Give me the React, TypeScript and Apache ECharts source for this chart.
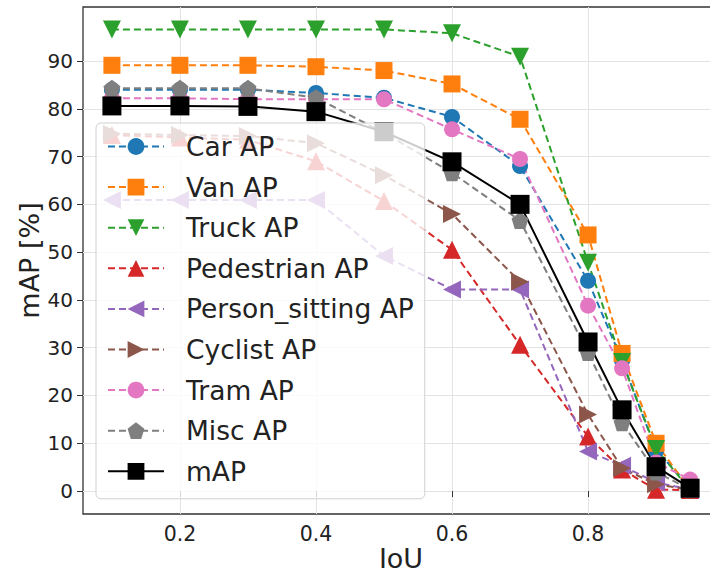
import React, { useEffect, useRef } from "react";
import * as echarts from "echarts";

const iouValues = [0.1, 0.2, 0.3, 0.4, 0.5, 0.6, 0.7, 0.8, 0.85, 0.9, 0.95];
const xTicks = [0.2, 0.4, 0.6, 0.8];
const yTicks = [0, 10, 20, 30, 40, 50, 60, 70, 80, 90];

const carAP = [84.0, 84.0, 84.0, 83.3, 82.3, 78.3, 68.0, 44.0, 27.3, 8.5, 1.0];
const vanAP = [89.1, 89.1, 89.1, 88.8, 88.0, 85.2, 77.8, 53.6, 28.8, 10.0, 0.3];
const truckAP = [96.6, 96.6, 96.6, 96.6, 96.6, 95.8, 90.9, 47.8, 27.0, 8.8, 0.3];
const pedestrianAP = [74.5, 74.0, 73.5, 69.0, 60.7, 50.5, 30.6, 11.4, 4.5, 0.3, 0.2];
const personSittingAP = [60.9, 60.9, 60.9, 60.9, 49.2, 42.2, 42.2, 8.3, 5.3, 1.8, 0.3];
const cyclistAP = [74.8, 74.5, 74.3, 72.8, 66.1, 58.0, 43.8, 16.0, 4.8, 1.4, 0.3];
const tramAP = [82.2, 82.2, 82.0, 82.0, 82.0, 75.7, 69.5, 38.8, 25.7, 6.0, 2.4];
const miscAP = [84.3, 84.3, 84.3, 82.3, 75.0, 66.6, 56.6, 29.0, 14.3, 4.0, 0.3];
const meanAP = [80.6, 80.6, 80.5, 79.4, 75.2, 68.9, 60.0, 31.2, 17.0, 5.1, 0.6];

const FONT = "DejaVu Sans";

type Def = {
  name: string;
  data: number[];
  color: string;
  symbol: string;
  size: number;
  dashed: boolean;
};

const TRI_DOWN = "path://M0,0 L10,0 L5,10 Z";
const TRI_UP = "path://M5,0 L10,10 L0,10 Z";
const TRI_LEFT = "path://M0,5 L10,0 L10,10 Z";
const TRI_RIGHT = "path://M0,0 L10,5 L0,10 Z";
const PENTAGON = "path://M5,0 L10,3.8 L8.1,10 L1.9,10 L0,3.8 Z";

const defs: Def[] = [
  { name: "Car AP", data: carAP, color: "#1f77b4", symbol: "circle", size: 16, dashed: true },
  { name: "Van AP", data: vanAP, color: "#ff7f0e", symbol: "rect", size: 17, dashed: true },
  { name: "Truck AP", data: truckAP, color: "#2ca02c", symbol: TRI_DOWN, size: 18, dashed: true },
  { name: "Pedestrian AP", data: pedestrianAP, color: "#d62728", symbol: TRI_UP, size: 18, dashed: true },
  { name: "Person_sitting AP", data: personSittingAP, color: "#9467bd", symbol: TRI_LEFT, size: 18, dashed: true },
  { name: "Cyclist AP", data: cyclistAP, color: "#8c564b", symbol: TRI_RIGHT, size: 18, dashed: true },
  { name: "Tram AP", data: tramAP, color: "#e377c2", symbol: "circle", size: 16, dashed: true },
  { name: "Misc AP", data: miscAP, color: "#7f7f7f", symbol: PENTAGON, size: 17, dashed: true },
  { name: "mAP", data: meanAP, color: "#000000", symbol: "rect", size: 19, dashed: false },
];

export default function App() {
  const ref = useRef<HTMLDivElement>(null);
  useEffect(() => {
    document.body.style.margin = "0";
    if (!ref.current) return;
    const chart = echarts.init(ref.current, undefined, { renderer: "svg", width: 710, height: 574 });
    const series = defs.map((d) => ({
      name: d.name,
      type: "line",
      data: iouValues.map((x, i) => [x, d.data[i]]),
      symbol: d.symbol,
      symbolSize: d.size,
      showSymbol: true,
      clip: false,
      itemStyle: { color: d.color, borderWidth: 0 },
      lineStyle: { color: d.color, width: 2, type: d.dashed ? [7, 4] : "solid" },
      emphasis: { disabled: true },
    }));
    chart.setOption({
      animation: false,
      backgroundColor: "#ffffff",
      grid: {
        left: 83,
        top: 7,
        right: -9,
        bottom: 60,
        outerBoundsMode: "none",
        containLabel: false,
        show: true,
        borderColor: "#333333",
        borderWidth: 1.3,
        backgroundColor: "transparent",
      },
      xAxis: {
        type: "value",
        min: 0.0575,
        max: 0.9925,
        name: "IoU",
        nameLocation: "middle",
        nameGap: 30.5,
        nameMoveOverlap: false,
        nameTextStyle: { fontFamily: FONT, fontSize: 27, lineHeight: 27, color: "#222" },
        axisLine: { show: false },
        axisTick: { show: true, length: 6, lineStyle: { color: "#333" }, customValues: xTicks },
        axisLabel: {
          fontFamily: FONT,
          fontSize: 20.5,
          color: "#222",
          margin: 9,
          customValues: xTicks,
          formatter: (v: number) => v.toFixed(1),
        },
        splitLine: { show: true, lineStyle: { color: "#e3e3e3", width: 1 } },
      },
      yAxis: {
        type: "value",
        min: -4.8,
        max: 101.3,
        name: "mAP [%]",
        nameLocation: "middle",
        nameGap: 40,
        nameMoveOverlap: false,
        nameTextStyle: { fontFamily: FONT, fontSize: 27, color: "#222" },
        axisLine: { show: false },
        axisTick: { show: true, length: 6, lineStyle: { color: "#333" }, customValues: yTicks },
        axisLabel: {
          fontFamily: FONT,
          fontSize: 20,
          color: "#222",
          margin: 10,
          customValues: yTicks,
        },
        splitLine: { show: true, lineStyle: { color: "#e3e3e3", width: 1 } },
      },
      legend: {
        orient: "vertical",
        left: 96,
        top: 123,
        padding: [10, 11, 14, 11],
        itemGap: 13.6,
        itemWidth: 56,
        itemHeight: 21,
        selectedMode: false,
        backgroundColor: "rgba(255,255,255,0.8)",
        borderColor: "#d0d0d0",
        borderWidth: 1,
        borderRadius: 5,
        textStyle: {
          fontFamily: FONT,
          fontSize: 26.5,
          lineHeight: 27,
          color: "#222",
          padding: [0, 0, 0, 17],
        },
        data: defs.map((d) => d.name),
      },
      series,
    });
    return () => chart.dispose();
  }, []);
  return <div ref={ref} style={{ width: 710, height: 574, position: "absolute", left: 0, top: 0 }} />;
}
